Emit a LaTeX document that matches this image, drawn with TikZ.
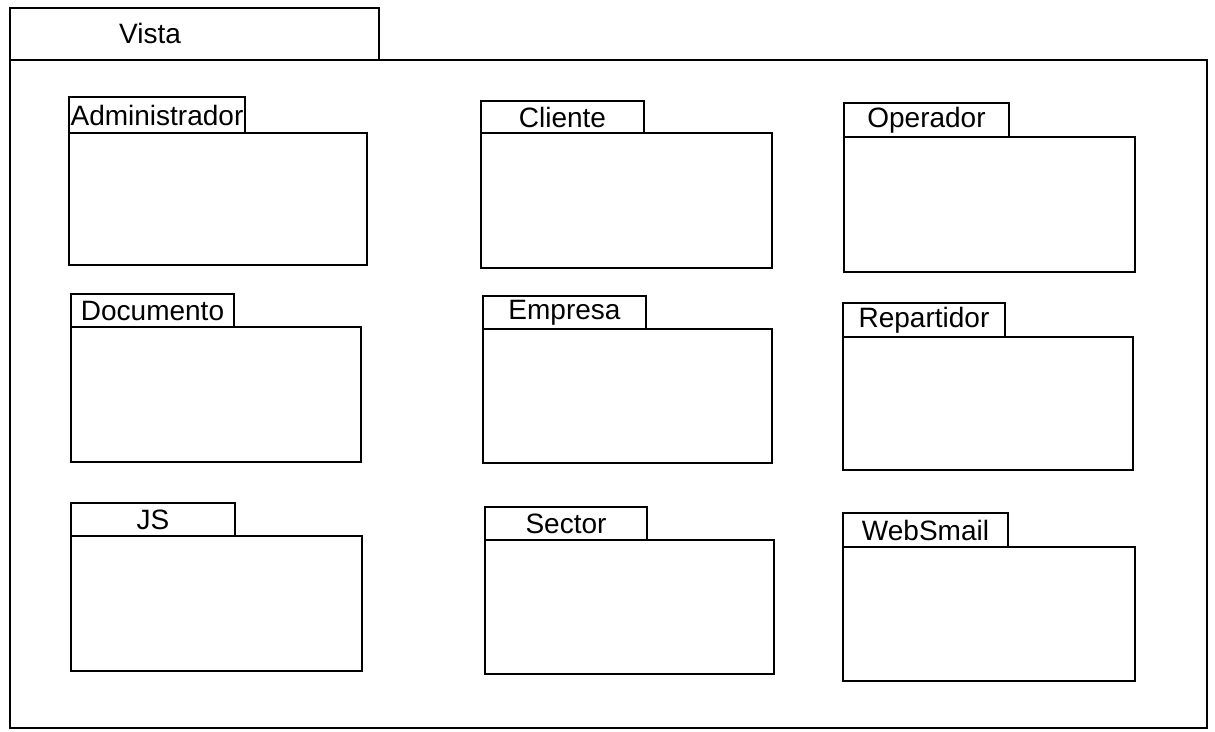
\documentclass[tikz,border=0pt]{standalone}
\usepackage{fontspec}
\setmainfont{Liberation Sans}
\usetikzlibrary{positioning}

\tikzset{
  pkgtab/.style={draw=black, line width=2.8pt, inner sep=0pt, outer sep=0pt, anchor=north west,
    font=\fontsize{28}{30}\selectfont},
  pkgbody/.style={draw=black, line width=2.8pt, inner sep=0pt, outer sep=0pt, anchor=north west},
}

\begin{document}
\begin{tikzpicture}[x=1pt, y=-1pt]
        \useasboundingbox (0,0) rectangle (1215,731);
        % The outer package Vista.
            \node[pkgtab, line width=2.4pt, minimum width=369pt, minimum height=52pt] (vistatab) at (10,8) {};
            \node[font=\fontsize{28}{30}\selectfont, inner sep=0pt] (vistalabel) at (150,33) {Vista};
            \node[pkgbody, line width=2.4pt, minimum width=1197pt, minimum height=668pt] (vistabody) at (vistatab.south west) {};
        % First row.
            \node[pkgtab, minimum width=176pt, minimum height=36pt] (admintab) at (69,97) {Administrador};
            \node[pkgbody, minimum width=298pt, minimum height=132pt] (adminbody) at (admintab.south west) {};
            \node[pkgtab, minimum width=163pt, minimum height=32pt] (clientetab) at (481,101) {Cliente};
            \node[pkgbody, minimum width=291pt, minimum height=135pt] (clientebody) at (clientetab.south west) {};
            \node[pkgtab, minimum width=165pt, minimum height=34pt] (operadortab) at (844,103) {Operador};
            \node[pkgbody, minimum width=291pt, minimum height=135pt] (operadorbody) at (operadortab.south west) {};
        % Second row.
            \node[pkgtab, minimum width=163pt, minimum height=33pt] (documentotab) at (71,294) {Documento};
            \node[pkgbody, minimum width=290pt, minimum height=135pt] (documentobody) at (documentotab.south west) {};
            \node[pkgtab, minimum width=163pt, minimum height=33pt] (empresatab) at (483,296) {Empresa};
            \node[pkgbody, minimum width=289pt, minimum height=134pt] (empresabody) at (empresatab.south west) {};
            \node[pkgtab, minimum width=162pt, minimum height=34pt] (repartidortab) at (843,303) {Repartidor};
            \node[pkgbody, minimum width=290pt, minimum height=133pt] (repartidorbody) at (repartidortab.south west) {};
        % Third row.
            \node[pkgtab, minimum width=164pt, minimum height=33pt] (jstab) at (71,503) {JS};
            \node[pkgbody, minimum width=291pt, minimum height=135pt] (jsbody) at (jstab.south west) {};
            \node[pkgtab, minimum width=162pt, minimum height=33pt] (sectortab) at (485,507) {Sector};
            \node[pkgbody, minimum width=289pt, minimum height=134pt] (sectorbody) at (sectortab.south west) {};
            \node[pkgtab, minimum width=165pt, minimum height=34pt] (websmailtab) at (843,513) {WebSmail};
            \node[pkgbody, minimum width=292pt, minimum height=134pt] (websmailbody) at (websmailtab.south west) {};
    \end{tikzpicture}
\end{document}
